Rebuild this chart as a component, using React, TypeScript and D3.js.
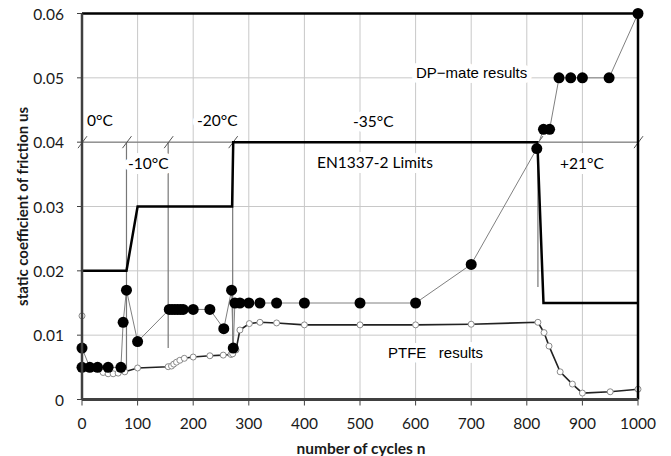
import React from 'react';
import * as d3 from 'd3';

// DP-mate results (filled markers)
const dpX = [0, 0, 14, 28, 47, 70, 74, 80, 100, 157, 162, 167, 172, 177, 182, 200, 230, 255, 269, 272, 275, 284, 300, 320, 350, 400, 500, 600, 700, 818, 830, 841, 858, 879, 900, 948, 1000];
const dpY = [0.005, 0.008, 0.005, 0.005, 0.005, 0.005, 0.012, 0.017, 0.009, 0.014, 0.014, 0.014, 0.014, 0.014, 0.014, 0.014, 0.014, 0.011, 0.017, 0.008, 0.015, 0.015, 0.015, 0.015, 0.015, 0.015, 0.015, 0.015, 0.021, 0.039, 0.042, 0.042, 0.05, 0.05, 0.05, 0.05, 0.06];

// PTFE results (open markers)
const ptX = [0, 0, 14, 28, 38, 47, 56, 65, 77, 100, 155, 161, 165, 170, 176, 184, 200, 230, 254, 268, 271, 277, 284, 301, 320, 350, 400, 500, 600, 700, 820, 831, 840, 860, 882, 900, 950, 1000];
const ptY = [0.013, 0.005, 0.0052, 0.0048, 0.0042, 0.004, 0.004, 0.0041, 0.0043, 0.0049, 0.0051, 0.0052, 0.0055, 0.0058, 0.0061, 0.0064, 0.0066, 0.0068, 0.0069, 0.007, 0.0071, 0.0077, 0.0108, 0.0118, 0.012, 0.0119, 0.0116, 0.0116, 0.0116, 0.0117, 0.012, 0.0104, 0.0083, 0.0043, 0.0024, 0.001, 0.0012, 0.0016];

// EN1337-2 limit line
const limX = [0, 80, 100, 270, 272, 819, 830, 1000];
const limY = [0.02, 0.02, 0.03, 0.03, 0.04, 0.04, 0.015, 0.015];

// temperature zone markers at 0.04
const zoneX = [0, 80, 155, 271, 820, 1000];
const zoneBottom = [null, 0.0045, 0.008, 0.008, 0.0175, null];

const xTicks = [0, 100, 200, 300, 400, 500, 600, 700, 800, 900, 1000];
const yTicks = [0, 0.01, 0.02, 0.03, 0.04, 0.05, 0.06];

// labels: text, x (px left), y (px centre), font
const labels = [
  { text: '0°C', x: 87, y: 120, f: 'c' },
  { text: '-10°C', x: 128, y: 163, f: 'c' },
  { text: '-20°C', x: 197, y: 120, f: 'c' },
  { text: '-35°C', x: 353, y: 121, f: 'c' },
  { text: 'EN1337-2 Limits', x: 317, y: 162, f: 'c' },
  { text: '+21°C', x: 560, y: 163, f: 'c' },
  { text: 'DP\u2212mate results', x: 416, y: 72, f: 'a' },
  { text: 'PTFE\u00a0\u00a0 results', x: 388, y: 352, f: 'a' },
];

export default function App() {
  const W = 671, H = 456;
  const x = d3.scaleLinear().domain([0, 1000]).range([82, 638]);
  const y = d3.scaleLinear().domain([0, 0.06]).range([399.5, 13.5]);
  const line = d3.line<[number, number]>().x(d => x(d[0])).y(d => y(d[1]));

  const dp = dpX.map((v, i) => [v, dpY[i]] as [number, number]);
  const pt = ptX.map((v, i) => [v, ptY[i]] as [number, number]);
  const lim = limX.map((v, i) => [v, limY[i]] as [number, number]);

  const calibri = 'Lato, "Open Sans", sans-serif';
  const arial = '"Liberation Sans", Arial, sans-serif';

  return (
    <svg width={W} height={H} style={{ position: 'absolute', left: 0, top: 0, background: '#fff' }}>
      {/* gridlines */}
      {xTicks.slice(1, -1).map(t => (
        <line key={'gx' + t} x1={x(t)} x2={x(t)} y1={y(0.06)} y2={y(0)} stroke="#c8c8c8" strokeWidth={1} />
      ))}
      {yTicks.slice(1, -1).map(t => (
        <line key={'gy' + t} x1={x(0)} x2={x(1000)} y1={y(t)} y2={y(t)} stroke="#c8c8c8" strokeWidth={1} />
      ))}

      {/* zone line at 0.04 and markers */}
      <line x1={x(0)} x2={x(1000)} y1={y(0.04)} y2={y(0.04)} stroke="#707070" strokeWidth={1} />
      {zoneX.map((z, i) => (
        <g key={'z' + i}>
          {zoneBottom[i] != null && (
            <line x1={x(z)} x2={x(z)} y1={y(0.04)} y2={y(zoneBottom[i] as number)} stroke="#777" strokeWidth={1.2} />
          )}
          <line x1={x(z) - 4} x2={x(z) + 5} y1={y(0.04) + 6} y2={y(0.04) - 6} stroke="#555" strokeWidth={1} />
        </g>
      ))}

      {/* label boxes */}
      {labels.map((l, i) => (
        <g key={'l' + i}>
          <text x={l.x} y={l.y} dominantBaseline="central"
            fontFamily={l.f === 'c' ? calibri : arial}
            fontSize={l.f === 'c' ? 15.5 : 15}
            stroke="#fff" strokeWidth={10} strokeLinejoin="round" fill="#fff">{l.text}</text>
        </g>
      ))}

      {/* limits */}
      <path d={line(lim) || ''} fill="none" stroke="#000" strokeWidth={2.5} />

      {/* PTFE */}
      <path d={line(pt) || ''} fill="none" stroke="#222" strokeWidth={1.6} />
      {pt.map((d, i) => (
        <circle key={'p' + i} cx={x(d[0])} cy={y(d[1])} r={3} fill="#fff" stroke="#8a8a8a" strokeWidth={1} />
      ))}

      {/* DP-mate */}
      <path d={line(dp) || ''} fill="none" stroke="#808080" strokeWidth={1} />
      {dp.map((d, i) => (
        <circle key={'d' + i} cx={x(d[0])} cy={y(d[1])} r={5.5} fill="#000" />
      ))}

      {/* frame and axes */}
      <line x1={x(0)} x2={x(1000)} y1={y(0.06)} y2={y(0.06)} stroke="#000" strokeWidth={2.5} />
      <line x1={x(1000)} x2={x(1000)} y1={y(0.06)} y2={y(0)} stroke="#000" strokeWidth={2.5} />
      <line x1={x(0)} x2={x(0)} y1={y(0.06)} y2={y(0)} stroke="#404040" strokeWidth={2.5} />
      <line x1={x(0)} x2={x(1000)} y1={y(0)} y2={y(0)} stroke="#404040" strokeWidth={3} />
      {yTicks.map(t => (
        <g key={'yt' + t}>
          <line x1={x(0) - 5} x2={x(0)} y1={y(t)} y2={y(t)} stroke="#404040" strokeWidth={1} />
          <text x={64} y={y(t)} textAnchor="end" dominantBaseline="central" fontFamily={calibri} fontSize={15.5} fill="#1a1a1a">
            {t === 0 ? '0' : t.toFixed(2)}
          </text>
        </g>
      ))}
      {xTicks.map(t => (
        <g key={'xt' + t}>
          <line x1={x(t)} x2={x(t)} y1={y(0)} y2={y(0) + 6} stroke="#404040" strokeWidth={1} />
          <text x={x(t)} y={423} textAnchor="middle" dominantBaseline="central" fontFamily={calibri} fontSize={15.5} fill="#1a1a1a">
            {t}
          </text>
        </g>
      ))}

      {/* label texts */}
      {labels.map((l, i) => (
        <text key={'lt' + i} x={l.x} y={l.y} dominantBaseline="central"
          fontFamily={l.f === 'c' ? calibri : arial}
          fontSize={l.f === 'c' ? 15.5 : 15} fill="#000">{l.text}</text>
      ))}

      {/* axis titles */}
      <text x={361} y={448} textAnchor="middle" dominantBaseline="central" fontFamily={calibri} fontWeight="bold" fontSize={15.5} fill="#1a1a1a">
        number of cycles n
      </text>
      <text transform={`translate(22,${y(0.03)}) rotate(-90)`} textAnchor="middle" dominantBaseline="central"
        fontFamily={calibri} fontWeight="bold" fontSize={15} fill="#1a1a1a">
        static coefficient of friction us
      </text>
    </svg>
  );
}
